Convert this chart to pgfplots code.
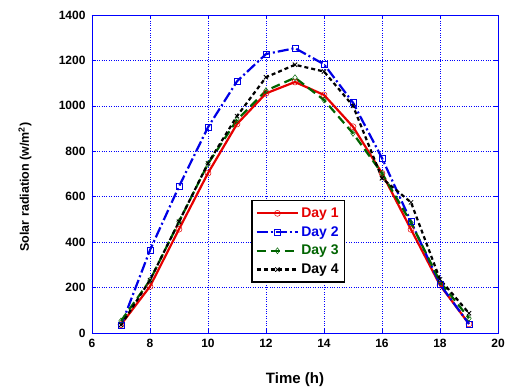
\documentclass[border=0pt]{standalone}
\usepackage{pgfplots}
\pgfplotsset{compat=1.18}
\usepackage{fontspec}
\setmainfont{Liberation Sans}
\usetikzlibrary{calc}
\definecolor{dred}{RGB}{230,0,0}
\definecolor{dblue}{RGB}{0,0,230}
\definecolor{dgreen}{RGB}{0,100,0}
\begin{document}
\begin{tikzpicture}
\begin{axis}[
  scale only axis,
  width=406pt, height=318pt,
  xmin=6, xmax=20, ymin=0, ymax=1400,
  xtick={6,8,...,20}, ytick={0,200,...,1400},
  grid=major,
  major grid style={blue, dotted, line width=0.6pt},
  axis line style={blue, line width=0.8pt},
  tick style={blue, line width=0.6pt},
  tick align=inside,
  major tick length=4pt,
  /pgf/number format/assume math mode=true,
  /pgf/number format/1000 sep={},
  ticklabel style={font=\fontsize{12}{14}\selectfont\bfseries},
  xticklabel style={yshift=-3pt},
  yticklabel style={xshift=-3pt},
  xlabel={Time (h)},
  ylabel={Solar radiation (w/m\textsuperscript{2})},
  xlabel style={font=\fontsize{15}{17}\selectfont\bfseries, at={(axis description cs:0.5,-0.148)}, anchor=center},
  ylabel style={font=\fontsize{12.5}{15}\selectfont\bfseries, at={(axis description cs:-0.165,0.459)}, anchor=center},
  legend style={at={(rel axis cs:0.392,0.418)}, anchor=north west,
    draw=black, line width=1.4pt, font=\fontsize{14}{16}\selectfont\bfseries,
    row sep=3.5pt, inner xsep=4pt, inner ysep=5pt},
  legend cell align=left,
  legend image code/.code={
    \draw[#1] (0cm,0cm) -- (1.45cm,0cm);
    \draw[#1, mark repeat=2, mark phase=2] plot coordinates {(0cm,0cm)(0.72cm,0cm)(1.45cm,0cm)};
  },
]
\addplot[dred, line width=2.2pt, mark=o, mark size=3pt, mark options={solid, line width=0.5pt}]
coordinates {(7,37)(8,205)(9,457)(10,704)(11,920)(12,1055)(13,1105)(14,1048)(15,908)(16,703)(17,456)(18,211)(19,40)};
\addlegendentry{\textcolor{dred}{Day 1}}
\addplot[dblue, line width=2.2pt, dash pattern=on 11pt off 3pt on 2pt off 3pt, mark=square, mark size=3pt, mark options={solid, line width=0.5pt}]
coordinates {(7,32)(8,365)(9,645)(10,906)(11,1108)(12,1228)(13,1254)(14,1183)(15,1014)(16,770)(17,490)(18,214)(19,40)};
\addlegendentry{\textcolor{dblue}{Day 2}}
\addplot[dgreen, line width=2.2pt, dash pattern=on 9pt off 5pt, mark=diamond, mark size=3pt, mark options={solid, line width=0.5pt}]
coordinates {(7,53)(8,232)(9,490)(10,745)(11,938)(12,1067)(13,1124)(14,1026)(15,879)(16,703)(17,486)(18,226)(19,65)};
\addlegendentry{\textcolor{dgreen}{Day 3}}
\addplot[black, line width=2.2pt, dash pattern=on 4pt off 3pt, mark=x, mark size=3pt, mark options={solid, line width=0.8pt}]
coordinates {(7,35)(8,233)(9,490)(10,747)(11,955)(12,1126)(13,1181)(14,1151)(15,1000)(16,681)(17,575)(18,236)(19,87)};
\addlegendentry{Day 4}
\end{axis}
\pgfresetboundingbox
\path[use as bounding box] ($(current axis.south west)+(-92pt,-57pt)$) rectangle ($(current axis.north east)+(11pt,15pt)$);
\end{tikzpicture}
\end{document}
